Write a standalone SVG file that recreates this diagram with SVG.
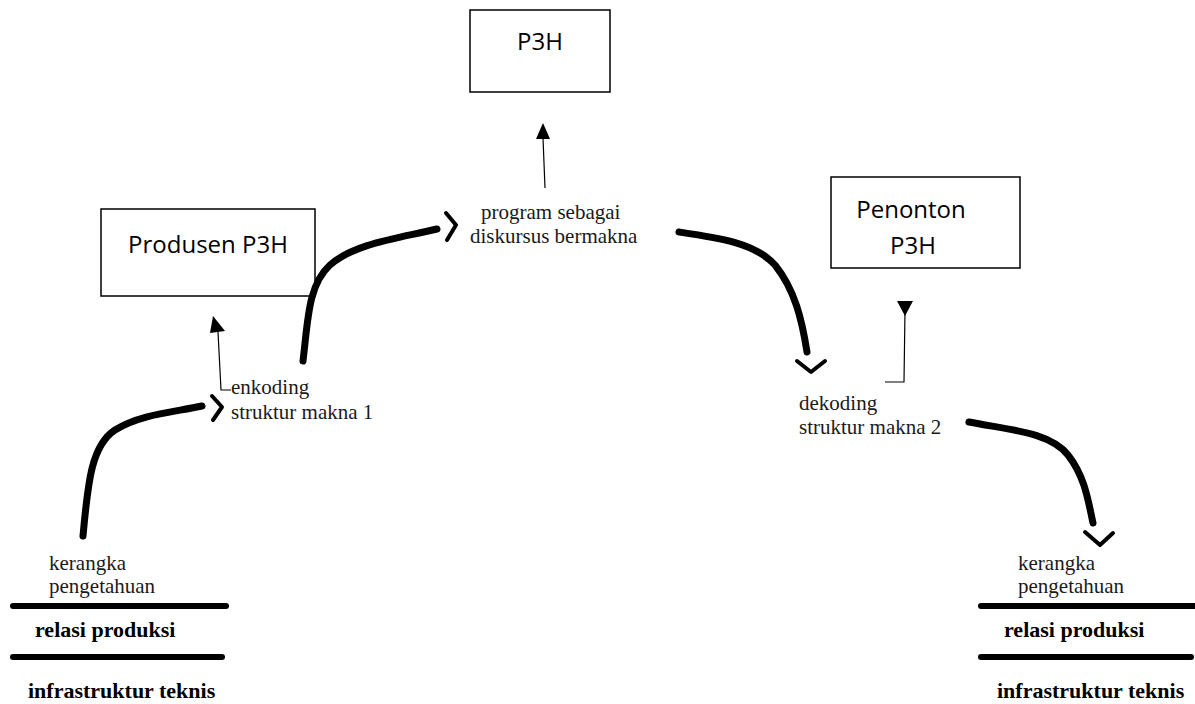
<svg xmlns="http://www.w3.org/2000/svg" width="1195" height="704" viewBox="0 0 1195 704">
<style>
.box{fill:#fff;stroke:#000;stroke-width:1.5}
.bt{font-family:"Open Sans","Liberation Sans",sans-serif;font-size:24px;fill:#000;text-anchor:middle}
.st{font-family:"Liberation Serif",serif;font-size:21px;fill:#1a1a1a}
.sb{font-family:"Liberation Serif",serif;font-size:22px;font-weight:bold;fill:#000}
.thick{fill:none;stroke:#000;stroke-width:7;stroke-linecap:round;stroke-linejoin:round}
.chev{fill:none;stroke:#000;stroke-width:4;stroke-linecap:round;stroke-linejoin:round}
.thin{fill:none;stroke:#000;stroke-width:1.2}
.bar{stroke:#000;stroke-width:6;stroke-linecap:round}
</style>
<rect width="1195" height="704" fill="#fff"/>
<g id="p3h"><rect class="box" x="470" y="10" width="140" height="82"/><text class="bt" x="540" y="50">P3H</text></g>
<g id="produsen"><rect class="box" x="101" y="209" width="214" height="87"/><text class="bt" x="208" y="253">Produsen P3H</text></g>
<g id="penonton"><rect class="box" x="831" y="177" width="189" height="91"/><text class="bt" x="911" y="218" font-size="23">Penonton</text><text class="bt" x="913" y="254" font-size="23">P3H</text></g>
<g id="program"><text class="st" x="481" y="219">program sebagai</text><text class="st" x="470" y="243">diskursus bermakna</text></g>
<g id="enkoding"><text class="st" x="231" y="394">enkoding</text><text class="st" x="231" y="419">struktur makna 1</text></g>
<g id="dekoding"><text class="st" x="799" y="410">dekoding</text><text class="st" x="799" y="434">struktur makna 2</text></g>
<g id="left-base">
<text class="st" x="49" y="570">kerangka</text><text class="st" x="49" y="593">pengetahuan</text>
<line class="bar" x1="13" y1="606" x2="226" y2="606"/>
<text class="sb" x="35" y="637">relasi produksi</text>
<line class="bar" x1="13" y1="657" x2="222" y2="657"/>
<text class="sb" x="28" y="698">infrastruktur teknis</text>
</g>
<g id="right-base">
<text class="st" x="1018" y="570">kerangka</text><text class="st" x="1018" y="593">pengetahuan</text>
<line class="bar" x1="981" y1="606" x2="1195" y2="606"/>
<text class="sb" x="1004" y="637">relasi produksi</text>
<line class="bar" x1="981" y1="657" x2="1191" y2="657"/>
<text class="sb" x="997" y="698">infrastruktur teknis</text>
</g>
<g id="connectors">
<path class="thick" d="M83,536 C88,480 92,445 115,430 C140,414 175,412 202,406"/>
<path class="chev" d="M212,396 L222,407 L213,420"/>
<path class="thick" d="M303,361 C308,320 308,285 330,265 C355,243 400,238 437,229"/>
<path class="chev" d="M446,213 L456,225 L447,240"/>
<path class="thick" d="M679,232 C720,238 755,243 775,265 C795,290 802,320 807,352"/>
<path class="chev" d="M797,361 L811,372 L825,361"/>
<path class="thick" d="M969,422 C1010,430 1050,432 1068,455 C1085,477 1088,500 1093,523"/>
<path class="chev" d="M1085,532 L1100,545 L1113,533"/>
<path class="thin" d="M231,390 L221,390 L218,332"/>
<polygon points="213,316 210,333 225,331" fill="#000"/>
<path class="thin" d="M545,188 L543,138"/>
<polygon points="543,123 536,139 550,139" fill="#000"/>
<path class="thin" d="M885,382 L904,382 L905,310"/>
<polygon points="897,301 913,301 905,316" fill="#000"/>
</g>
</svg>
